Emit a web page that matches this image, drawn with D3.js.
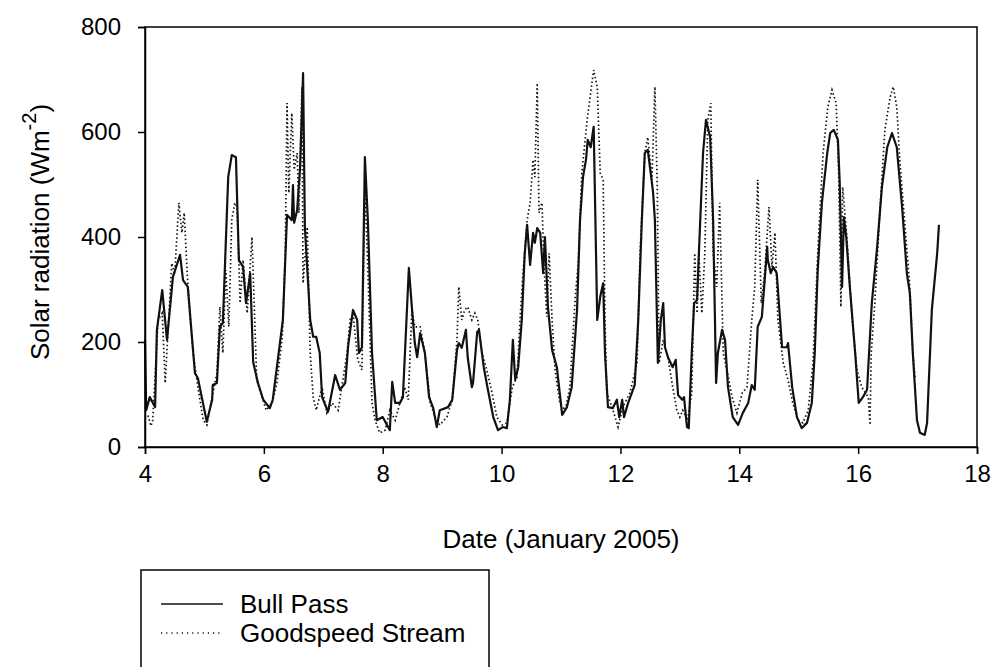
<!DOCTYPE html>
<html>
<head>
<meta charset="utf-8">
<script src="https://cdn.jsdelivr.net/npm/d3@7"></script>
<style>
  body { margin: 0; background: #fff; }
  text { font-family: "Liberation Sans", Arial, sans-serif; fill: #000; }
</style>
</head>
<body>
<div id="chartContainer"></div>
<script>
// [day of January 2005, W m-2]
var bullPass = [
  [4.00, 204], [4.02, 70], [4.08, 95], [4.17, 76], [4.20, 223], [4.29, 299], [4.37, 204],
  [4.47, 324], [4.59, 366], [4.64, 318], [4.72, 305], [4.84, 141], [4.89, 131], [5.04, 48],
  [5.13, 90], [5.14, 118], [5.21, 122], [5.26, 229], [5.31, 236], [5.40, 514], [5.46, 556],
  [5.53, 552], [5.58, 356], [5.65, 343], [5.70, 274], [5.77, 331], [5.82, 162], [5.90, 122],
  [5.99, 90], [6.10, 74], [6.15, 90], [6.32, 242], [6.39, 442], [6.47, 432], [6.49, 499],
  [6.51, 427], [6.56, 451], [6.61, 533], [6.66, 712], [6.69, 419], [6.78, 242], [6.83, 210],
  [6.88, 210], [6.94, 179], [6.98, 95], [7.08, 67], [7.20, 137], [7.28, 109], [7.37, 122],
  [7.42, 194], [7.50, 261], [7.57, 242], [7.60, 179], [7.65, 190], [7.70, 552], [7.75, 432],
  [7.82, 179], [7.90, 51], [8.00, 57], [8.09, 38], [8.12, 32], [8.16, 124], [8.21, 84],
  [8.29, 84], [8.34, 95], [8.41, 267], [8.44, 341], [8.49, 267], [8.54, 198], [8.58, 171],
  [8.63, 217], [8.71, 179], [8.78, 95], [8.85, 74], [8.91, 38], [8.96, 70], [9.10, 76],
  [9.17, 90], [9.25, 185], [9.28, 198], [9.33, 189], [9.40, 223], [9.43, 171], [9.50, 114],
  [9.52, 122], [9.59, 219], [9.62, 223], [9.70, 152], [9.77, 109], [9.86, 57], [9.94, 32],
  [10.02, 38], [10.09, 36], [10.14, 90], [10.19, 204], [10.23, 128], [10.28, 152], [10.34, 242],
  [10.39, 369], [10.43, 423], [10.48, 347], [10.53, 408], [10.56, 389], [10.60, 417], [10.65, 408],
  [10.70, 331], [10.73, 400], [10.78, 267], [10.85, 185], [10.93, 152], [11.02, 61], [11.10, 76],
  [11.18, 114], [11.27, 261], [11.32, 432], [11.37, 514], [11.42, 547], [11.45, 585], [11.50, 571],
  [11.55, 610], [11.61, 242], [11.66, 286], [11.71, 312], [11.74, 179], [11.79, 76], [11.87, 74],
  [11.94, 90], [11.98, 57], [12.03, 90], [12.06, 57], [12.13, 84], [12.24, 118], [12.30, 242],
  [12.36, 432], [12.41, 560], [12.46, 566], [12.53, 503], [12.55, 484], [12.58, 432], [12.63, 160],
  [12.68, 242], [12.72, 274], [12.75, 190], [12.80, 171], [12.88, 152], [12.93, 166], [12.97, 99],
  [13.04, 90], [13.07, 95], [13.12, 38], [13.15, 36], [13.20, 179], [13.24, 274], [13.29, 280],
  [13.32, 369], [13.39, 560], [13.44, 623], [13.51, 590], [13.56, 432], [13.61, 122], [13.64, 179],
  [13.71, 223], [13.76, 204], [13.81, 114], [13.89, 57], [13.98, 42], [14.06, 65], [14.15, 84],
  [14.21, 118], [14.26, 109], [14.31, 229], [14.38, 248], [14.47, 381], [14.48, 356], [14.53, 331],
  [14.57, 343], [14.63, 331], [14.72, 190], [14.80, 190], [14.82, 198], [14.89, 114], [14.97, 57],
  [15.05, 36], [15.14, 46], [15.22, 84], [15.27, 179], [15.32, 337], [15.39, 465], [15.48, 560],
  [15.53, 598], [15.59, 604], [15.66, 585], [15.69, 503], [15.73, 305], [15.76, 438], [15.80, 400],
  [15.86, 305], [15.95, 179], [16.01, 84], [16.08, 95], [16.15, 109], [16.23, 274], [16.32, 381],
  [16.40, 495], [16.49, 571], [16.57, 598], [16.65, 571], [16.74, 457], [16.82, 331], [16.87, 293],
  [16.92, 179], [16.99, 51], [17.04, 27], [17.12, 23], [17.16, 46], [17.24, 261], [17.33, 369],
  [17.36, 423]
];

var goodspeed = [
  [4.05, 60], [4.10, 40], [4.13, 51], [4.22, 242], [4.29, 255], [4.34, 122], [4.45, 350],
  [4.50, 331], [4.57, 465], [4.62, 408], [4.66, 446], [4.71, 331], [4.76, 248], [4.81, 179],
  [4.89, 114], [4.98, 51], [5.04, 42], [5.13, 95], [5.21, 141], [5.26, 267], [5.31, 179],
  [5.36, 337], [5.41, 229], [5.46, 432], [5.51, 465], [5.55, 457], [5.60, 274], [5.65, 356],
  [5.72, 255], [5.80, 400], [5.82, 331], [5.88, 128], [5.97, 95], [6.04, 70], [6.14, 84],
  [6.22, 122], [6.31, 210], [6.36, 369], [6.39, 655], [6.42, 484], [6.47, 636], [6.51, 528],
  [6.56, 560], [6.59, 446], [6.64, 686], [6.66, 312], [6.73, 419], [6.78, 179], [6.83, 95],
  [6.88, 70], [6.98, 114], [7.06, 65], [7.15, 84], [7.25, 70], [7.33, 128], [7.40, 179],
  [7.45, 242], [7.50, 255], [7.58, 166], [7.65, 147], [7.70, 495], [7.75, 337], [7.82, 84],
  [7.87, 51], [7.95, 27], [8.04, 32], [8.12, 70], [8.21, 51], [8.29, 84], [8.37, 114],
  [8.43, 90], [8.49, 261], [8.54, 229], [8.63, 229], [8.71, 179], [8.80, 84], [8.88, 57],
  [8.96, 42], [9.08, 57], [9.17, 90], [9.25, 204], [9.28, 305], [9.33, 242], [9.38, 261],
  [9.43, 267], [9.50, 242], [9.55, 255], [9.60, 242], [9.67, 179], [9.75, 147], [9.84, 103],
  [9.92, 57], [10.01, 42], [10.09, 46], [10.18, 114], [10.26, 133], [10.31, 242], [10.36, 331],
  [10.43, 432], [10.48, 465], [10.53, 547], [10.56, 514], [10.60, 693], [10.63, 446], [10.68, 465],
  [10.71, 356], [10.76, 248], [10.80, 369], [10.85, 242], [10.90, 147], [10.98, 84], [11.07, 70],
  [11.15, 114], [11.24, 286], [11.29, 350], [11.35, 522], [11.44, 623], [11.52, 693], [11.55, 718],
  [11.61, 686], [11.66, 522], [11.71, 509], [11.74, 242], [11.77, 103], [11.86, 76], [11.96, 38],
  [12.04, 76], [12.16, 103], [12.28, 160], [12.33, 369], [12.41, 560], [12.46, 590], [12.53, 509],
  [12.58, 686], [12.62, 495], [12.65, 160], [12.72, 204], [12.80, 171], [12.88, 114], [12.95, 70],
  [13.00, 57], [13.05, 70], [13.13, 51], [13.20, 103], [13.25, 369], [13.29, 255], [13.32, 369],
  [13.37, 255], [13.42, 369], [13.47, 623], [13.52, 655], [13.56, 369], [13.62, 305], [13.67, 465],
  [13.73, 179], [13.79, 147], [13.88, 95], [13.96, 65], [14.05, 103], [14.13, 114], [14.21, 242],
  [14.26, 305], [14.31, 509], [14.37, 274], [14.43, 337], [14.50, 457], [14.55, 343], [14.60, 408],
  [14.65, 242], [14.74, 160], [14.82, 128], [14.90, 84], [14.99, 51], [15.07, 46], [15.16, 70],
  [15.24, 160], [15.32, 369], [15.41, 560], [15.49, 648], [15.56, 680], [15.63, 655], [15.67, 528],
  [15.71, 267], [15.74, 495], [15.81, 400], [15.90, 242], [15.98, 147], [16.06, 114], [16.17, 95],
  [16.20, 42], [16.22, 179], [16.28, 274], [16.37, 457], [16.45, 604], [16.54, 667], [16.59, 686],
  [16.65, 648], [16.70, 547], [16.79, 419], [16.87, 305], [16.92, 179], [16.96, 130]
];

var xTicks = [4, 6, 8, 10, 12, 14, 16, 18];
var yTicks = [0, 200, 400, 600, 800];
var seriesNames = ["Bull Pass", "Goodspeed Stream"];

function drawChart() {
  var margin = { top: 27, right: 16, bottom: 220, left: 145 };
  var width = 993 - margin.left - margin.right;
  var height = 667 - margin.top - margin.bottom;

  var root = d3.select("#chartContainer")
    .append("svg")
    .attr("width", 993)
    .attr("height", 667);

  var svg = root.append("g")
    .attr("transform", "translate(" + margin.left + "," + margin.top + ")");

  var x = d3.scaleLinear().domain([4, 18]).range([0, width]);
  var y = d3.scaleLinear().domain([0, 800]).range([height, 0]);

  var line = d3.line()
    .x(function(d) { return x(d[0]); })
    .y(function(d) { return y(d[1]); });

  svg.append("path")
    .datum(goodspeed)
    .attr("fill", "none")
    .attr("stroke", "#111")
    .attr("stroke-width", 1.7)
    .attr("stroke-dasharray", "1.5,2.5")
    .attr("d", line);

  svg.append("path")
    .datum(bullPass)
    .attr("fill", "none")
    .attr("stroke", "#111")
    .attr("stroke-width", 2.2)
    .attr("stroke-linejoin", "round")
    .attr("d", line);

  // frame
  svg.append("rect")
    .attr("width", width)
    .attr("height", height)
    .attr("fill", "none")
    .attr("stroke", "#000")
    .attr("stroke-width", 1.5);

  var xAxis = svg.append("g")
    .attr("transform", "translate(0," + height + ")")
    .call(d3.axisBottom(x).tickValues(xTicks).tickSize(7).tickPadding(11));

  var yAxis = svg.append("g")
    .call(d3.axisLeft(y).tickValues(yTicks).tickSize(7).tickPadding(17));

  [xAxis, yAxis].forEach(function(a) {
    a.select(".domain").attr("stroke-width", 1.5);
    a.selectAll(".tick line").attr("stroke-width", 1.5);
    a.selectAll(".tick text")
      .attr("font-size", "24px")
      .attr("font-family", "Liberation Sans, Arial, sans-serif")
      .attr("fill", "#000");
  });

  root.append("text")
    .attr("x", margin.left + width / 2)
    .attr("y", 548)
    .attr("text-anchor", "middle")
    .attr("font-size", "26px")
    .text("Date (January 2005)");

  var yt = root.append("text")
    .attr("transform", "translate(49," + (margin.top + height / 2 - 5) + ") rotate(-90)")
    .attr("text-anchor", "middle")
    .attr("font-size", "26px");
  yt.append("tspan").text("Solar radiation (Wm");
  yt.append("tspan").attr("dy", -13).attr("font-size", "20px").text("-2");
  yt.append("tspan").attr("dy", 13).text(")");

  // legend
  var legend = root.append("g").attr("transform", "translate(141,570)");
  legend.append("rect")
    .attr("width", 348)
    .attr("height", 110)
    .attr("fill", "#fff")
    .attr("stroke", "#000")
    .attr("stroke-width", 1.5);

  seriesNames.forEach(function(name, i) {
    var ly = 34 + i * 29;
    legend.append("line")
      .attr("x1", 20).attr("x2", 82)
      .attr("y1", ly).attr("y2", ly)
      .attr("stroke", "#111")
      .attr("stroke-width", i === 0 ? 1.7 : 1.3)
      .attr("stroke-dasharray", i === 0 ? null : "1.2,4");
    legend.append("text")
      .attr("x", 99)
      .attr("y", ly + 9)
      .attr("font-size", "26px")
      .text(name);
  });
}

drawChart();
</script>
</body>
</html>
